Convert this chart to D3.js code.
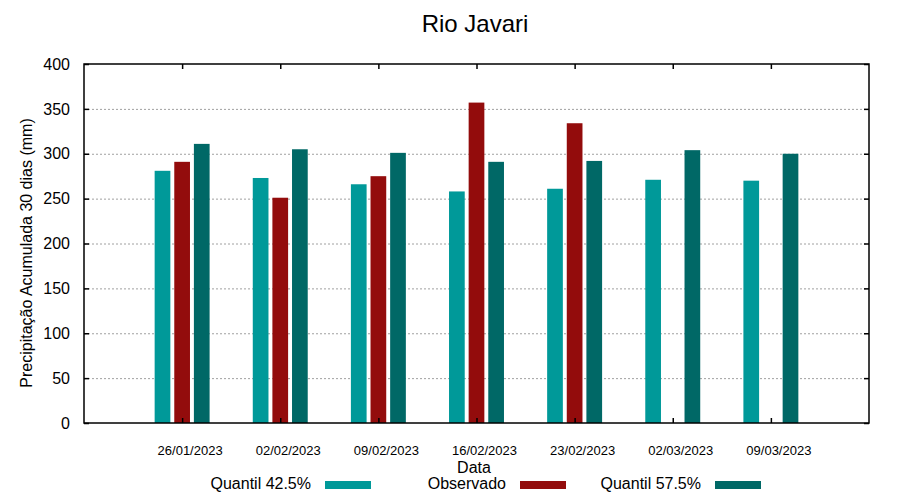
<!DOCTYPE html>
<html>
<head>
<meta charset="utf-8">
<script src="https://cdn.jsdelivr.net/npm/d3@7"></script>
<style>
  body { margin: 0; background: #fff; }
  text { font-family: "Liberation Sans", Arial, sans-serif; fill: #000; }
</style>
</head>
<body>
<div id="chart"></div>
<script>
// Dates shown on the x axis
const dates = ["26/01/2023", "02/02/2023", "09/02/2023", "16/02/2023",
  "23/02/2023", "02/03/2023", "09/03/2023"];

// Series values (mm), null where there is no observation
const q425 = [281, 273, 266, 258, 261, 271, 270];
const observado = [291, 251, 275, 357, 334, null, null];
const q575 = [311, 305, 301, 291, 292, 304, 300];

const yTicks = [0, 50, 100, 150, 200, 250, 300, 350, 400];

const series = [
  { name: "Quantil 42.5%", values: q425, color: "#009999", offset: -0.2 },
  { name: "Observado", values: observado, color: "#930c0c", offset: 0 },
  { name: "Quantil 57.5%", values: q575, color: "#006866", offset: 0.2 }
];

const width = 900;
const height = 500;
const margin = { top: 64, right: 31, bottom: 77, left: 84 };

const svg = d3.select("#chart")
  .append("svg")
  .attr("width", width)
  .attr("height", height);

// x is a linear scale over the group index, with one empty slot on each side
const x = d3.scaleLinear()
  .domain([-1, dates.length])
  .range([margin.left, width - margin.right]);

const y = d3.scaleLinear()
  .domain([0, 400])
  .range([height - margin.bottom, margin.top]);

const barWidth = x(0.16) - x(0);

// Grid lines
svg.append("g")
  .selectAll("line")
  .data(yTicks.slice(1, -1))
  .enter()
  .append("line")
  .attr("x1", margin.left)
  .attr("x2", width - margin.right)
  .attr("y1", (d) => y(d) + 0.5)
  .attr("y2", (d) => y(d) + 0.5)
  .attr("stroke", "#a0a0a0")
  .attr("stroke-width", 1)
  .attr("stroke-dasharray", "2,2");

// Bars
series.forEach((s) => {
  svg.append("g")
    .selectAll("rect")
    .data(s.values.map((v, i) => ({ v, i })).filter((d) => d.v !== null))
    .enter()
    .append("rect")
    .attr("x", (d) => x(d.i + s.offset) - barWidth / 2)
    .attr("y", (d) => y(d.v))
    .attr("width", barWidth)
    .attr("height", (d) => y(0) - y(d.v))
    .attr("fill", s.color);
});

// Axes (ticks point inward, mirrored like gnuplot)
const tickLen = 5;
svg.append("g")
  .attr("transform", `translate(${margin.left},0)`)
  .call(d3.axisLeft(y).tickValues(yTicks).tickSize(-tickLen).tickPadding(tickLen + 9))
  .call((g) => g.select(".domain").remove())
  .call((g) => g.selectAll("text").attr("font-size", 16).attr("font-family", "Liberation Sans, Arial, sans-serif"));

svg.append("g")
  .attr("transform", `translate(${width - margin.right},0)`)
  .call(d3.axisRight(y).tickValues(yTicks).tickSize(-tickLen).tickFormat(""))
  .call((g) => g.select(".domain").remove());

const xTickVals = d3.range(dates.length);
svg.append("g")
  .attr("transform", `translate(0,${height - margin.bottom})`)
  .call(d3.axisBottom(x).tickValues(xTickVals).tickSize(-tickLen).tickFormat(""))
  .call((g) => g.select(".domain").remove());

svg.append("g")
  .attr("transform", `translate(0,${margin.top})`)
  .call(d3.axisTop(x).tickValues(xTickVals).tickSize(-tickLen).tickFormat(""))
  .call((g) => g.select(".domain").remove());

svg.selectAll(".tick line").attr("stroke", "#000").attr("stroke-width", 1.5);

// Date labels, slightly shifted right of their ticks
svg.append("g")
  .selectAll("text")
  .data(dates)
  .enter()
  .append("text")
  .attr("x", (d, i) => x(i) + 8)
  .attr("y", 455)
  .attr("text-anchor", "middle")
  .attr("font-size", 13)
  .text((d) => d);

// Plot border
svg.append("rect")
  .attr("x", margin.left)
  .attr("y", margin.top)
  .attr("width", width - margin.left - margin.right)
  .attr("height", height - margin.top - margin.bottom)
  .attr("fill", "none")
  .attr("stroke", "#000")
  .attr("stroke-width", 1.5);

// Title and axis labels
svg.append("text")
  .attr("x", 475)
  .attr("y", 32)
  .attr("text-anchor", "middle")
  .attr("font-size", 24)
  .text("Rio Javari");

svg.append("text")
  .attr("transform", "translate(32,253) rotate(-90)")
  .attr("text-anchor", "middle")
  .attr("font-size", 16)
  .text("Precipitação Acumulada 30 dias (mm)");

svg.append("text")
  .attr("x", 474)
  .attr("y", 473)
  .attr("text-anchor", "middle")
  .attr("font-size", 16)
  .text("Data");

// Legend
const legendX = [311, 506, 701];
series.forEach((s, i) => {
  svg.append("text")
    .attr("x", legendX[i])
    .attr("y", 489)
    .attr("text-anchor", "end")
    .attr("font-size", 16)
    .text(s.name);
  svg.append("rect")
    .attr("x", legendX[i] + 14)
    .attr("y", 481)
    .attr("width", 46)
    .attr("height", 8)
    .attr("fill", s.color);
});
</script>
</body>
</html>
